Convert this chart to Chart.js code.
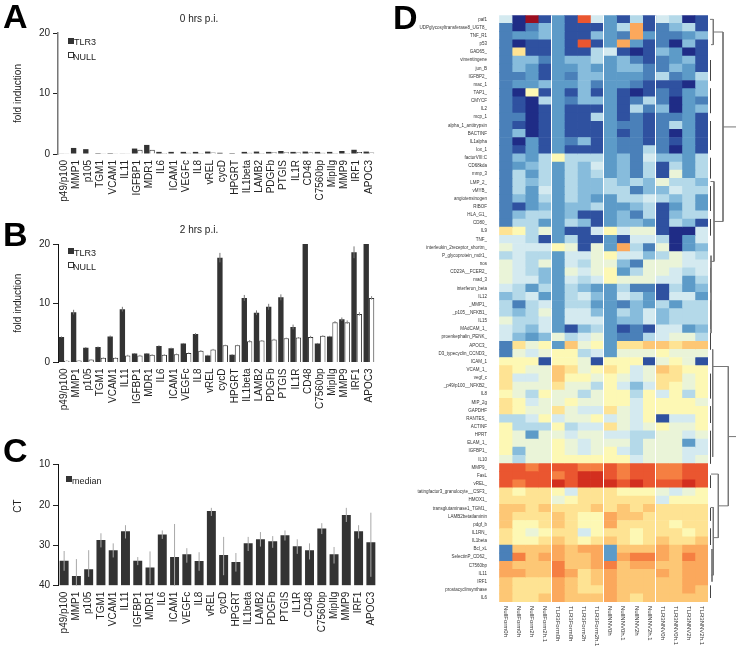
<!DOCTYPE html>
<html lang="en">
<head>
    <meta charset="UTF-8">
    <title>TLR3 fold induction, CT values and expression heatmap</title>
    <script src="https://cdn.jsdelivr.net/npm/chart.js"></script>
    <style>
        body { margin: 0; background: #fff; font-family: "Liberation Sans", Arial, sans-serif; }
        #page { position: relative; width: 739px; height: 650px; overflow: hidden; }
        canvas { position: absolute; }
        .letter { position: absolute; font-size: 34px; line-height: 34px; font-weight: bold; color: #000; }
        .key { position: absolute; font-size: 9px; line-height: 10px; color: #222; }
        .swatch { position: absolute; width: 4px; height: 4px; border: 0.5px solid #333; }
        .ct { position: absolute; left: 8px; top: 500px; width: 20px; height: 12px; font-size: 10px; line-height: 12px;
              text-align: center; color: #222; transform: rotate(-90deg); }
    </style>
</head>
<body>
<div id="page">
    <canvas id="chartA" width="398" height="212" style="left:0;top:0"></canvas>
    <canvas id="chartB" width="398" height="212" style="left:0;top:211px"></canvas>
    <canvas id="chartC" width="398" height="210" style="left:0;top:440px"></canvas>
    <canvas id="chartD" width="310" height="650" style="left:400px;top:0"></canvas>
    <canvas id="dendro" width="31" height="650" style="left:708px;top:0"></canvas>

    <div class="letter" style="left:3px;top:-1px">A</div>
    <div class="letter" style="left:3px;top:217px">B</div>
    <div class="letter" style="left:3px;top:433px">C</div>
    <div class="letter" style="left:393px;top:0">D</div>

    <div class="swatch" style="left:68px;top:38px;background:#333"></div>
    <div class="key" style="left:74px;top:37px">TLR3</div>
    <div class="swatch" style="left:68px;top:52px;background:#fff"></div>
    <div class="key" style="left:73px;top:52px">NULL</div>

    <div class="swatch" style="left:68px;top:248px;background:#333"></div>
    <div class="key" style="left:74px;top:248px">TLR3</div>
    <div class="swatch" style="left:68px;top:262px;background:#fff"></div>
    <div class="key" style="left:73px;top:262px">NULL</div>

    <div class="swatch" style="left:66px;top:476px;background:#333"></div>
    <div class="key" style="left:72px;top:476px">median</div>

    <div class="ct">CT</div>
</div>

<script>
    const genes = ['p49/p100', 'MMP1', 'p105', 'TGM1', 'VCAM1', 'IL11', 'IGFBP1', 'MDR1', 'IL6', 'ICAM1', 'VEGFc', 'IL8', 'vREL',
        'cycD', 'HPGRT', 'IL1beta', 'LAMB2', 'PDGFb', 'PTGIS', 'IL1R', 'CD48', 'C7560bp', 'MipIIg', 'MMP9', 'IRF1', 'APOC3'];

    // Panel A, 0 hrs
    const tlr3At0 = [0.1, 1.0, 0.8, 0.15, 0.15, 0.1, 0.9, 1.5, 0.35, 0.35, 0.35, 0.35, 0.4, 0.2, 0.15, 0.35, 0.4, 0.35, 0.5, 0.35, 0.4, 0.35, 0.35, 0.5, 0.7, 0.4];
    const nullAt0 = [0.05, 0.1, 0.1, 0.05, 0.05, 0.05, 0.7, 0.7, 0.15, 0.1, 0.2, 0.15, 0.25, 0.1, 0.1, 0.2, 0.15, 0.3, 0.3, 0.25, 0.25, 0.2, 0.15, 0.15, 0.35, 0.25];

    // Panel B, 2 hrs
    const tlr3At2 = [4.3, 8.5, 2.5, 2.6, 4.4, 9.0, 1.5, 1.5, 2.8, 2.4, 3.2, 4.8, 1.2, 17.7, 1.3, 10.9, 8.4, 9.4, 11.0, 6.0, 20, 3.2, 4.4, 7.3, 18.6, 20];
    const nullAt2 = [0.3, 0.35, 0.5, 0.8, 0.8, 1.2, 1.2, 1.3, 1.3, 1.4, 1.6, 2.0, 2.2, 2.9, 2.9, 3.6, 3.7, 3.9, 4.1, 4.2, 4.3, 4.5, 6.8, 6.8, 8.2, 10.9];
    const tlr3Err2 = [0.1, 0.4, 0.1, 0.1, 0.15, 0.4, 0.1, 0.1, 0.1, 0.1, 0.1, 0.15, 0.1, 0.8, 0.1, 0.5, 0.4, 0.5, 0.5, 0.4, 0, 0.1, 0.1, 0.3, 1.0, 0];
    const nullErr2 = [0.05, 0.05, 0.05, 0.05, 0.05, 0.1, 0.1, 0.1, 0.1, 0.1, 0.1, 0.1, 0.1, 0.1, 0.1, 0.2, 0.1, 0.1, 0.1, 0.1, 0.2, 0.1, 0.2, 0.3, 0.3, 0.3];

    // Panel C, median CT and its range
    const ctMedian = [33.8, 37.6, 35.9, 28.7, 31.2, 26.5, 33.8, 35.5, 27.3, 32.9, 32.2, 33.9, 21.5, 32.4, 34.1, 29.5, 28.5, 29, 27.5, 30.2, 31.2, 25.8, 32.2, 22.5, 26.5, 29.2];
    const ctLow = [31.4, 33.4, 31.2, 27, 29.5, 25, 32.9, 31.5, 26.3, 24.7, 30.7, 31.7, 20.7, 27.9, 31.9, 27.9, 26.7, 27.7, 26.3, 28.5, 29.5, 24.5, 30.4, 20.7, 25, 21.9];
    const ctHigh = [36.3, 40, 37.8, 30.5, 33, 28.3, 34.9, 39.6, 28.4, 40, 34.3, 36.3, 22.7, 37.4, 36.5, 31.4, 30.3, 30.6, 28.8, 32.1, 33.5, 27.2, 34.5, 24.2, 28.3, 37.8];

    // Panel D
    const heatRowLabels = ['paf1', 'UDPglycosyltransferase8_UGT8_', 'TNF_R1', 'p53', 'GAD65_', 'vimentingene', 'jun_B', 'IGFBP2_', 'mac_1', 'TAP1_',
        'CMYCF', 'IL2', 'mcp_1', 'alpha_1_antitrypsin', 'BACTINF', 'IL1alpha', 'lox_1', 'factorVIII:C', 'CD68kda', 'mmp_3',
        'LMP_2_', 'vMYB_', 'angiotensinogen', 'RIBOF', 'HLA_G1_', 'CD80_', 'IL9', 'TNF_', 'interleukin_2receptor_shortm_', 'P_glycoprotein_mdr1_',
        'nos', 'CD23A__FCER2_', 'mad_3', 'interferon_beta', 'IL12', '_MMP1_', '_p105__NFKB1_', 'IL15', 'MAdCAM_1_', 'proenkephalin_PENK_',
        'APOC3_', 'D3_typecyclin_CCND3_', 'ICAM_1', 'VCAM_1_', 'vegf_c', '_p49/p100__NFKB2_', 'IL8', 'MIP_2g', 'GAPDHF', 'RANTES_',
        'ACTINF', 'HPRT', 'ELAM_1_', 'IGFBP1_', 'IL10', 'MMP9_', 'FasL', 'vREL_', 'tatingfactor3_granulocyte__CSF3_', 'HMOX1_',
        'transglutaminase1_TGM1_', 'LAMB2betatlaminin', 'pdgf_b', 'IL1RN_', 'IL1beta', 'Bcl_xL', 'SelectinP_CD62_', 'C7560bp', 'IL11', 'IRF1',
        'prostacyclinsynthase', 'IL6'];
    const heatColLabels = ['NullForm0h', 'NullForm0h', 'NullForm2h', 'NullForm2h.1', 'TLR3Form0h', 'TLR3Form0h', 'TLR3Form2h', 'TLR3Form2h.1',
        'NullNNV0h', 'NullNNV0h.1', 'NullNNV2h', 'NullNNV2h.1', 'TLR3NNV0h', 'TLR3NNV0h.1', 'TLR3NNV2h', 'TLR3NNV2h.1'];
    const heatLevels = [
        [6, 0, 15, 1, 3, 1, 13, 6, 3, 1, 5, 1, 6, 5, 0, 1],
        [2, 0, 2, 4, 3, 1, 1, 1, 3, 5, 11, 1, 2, 4, 5, 1],
        [2, 3, 3, 4, 3, 1, 1, 4, 3, 2, 11, 3, 2, 2, 3, 4],
        [2, 0, 1, 1, 3, 1, 13, 1, 3, 11, 3, 1, 2, 0, 4, 1],
        [2, 9, 1, 1, 3, 1, 1, 5, 6, 1, 0, 1, 4, 3, 0, 1],
        [2, 4, 4, 2, 3, 4, 4, 5, 3, 4, 2, 1, 2, 3, 4, 1],
        [2, 4, 3, 1, 3, 3, 4, 3, 3, 4, 4, 2, 2, 4, 3, 1],
        [2, 2, 3, 1, 3, 2, 4, 4, 3, 3, 3, 2, 5, 2, 3, 5],
        [2, 3, 3, 4, 3, 3, 4, 2, 3, 3, 2, 1, 1, 1, 0, 4],
        [2, 0, 8, 1, 3, 1, 4, 1, 3, 1, 0, 1, 2, 1, 3, 4],
        [2, 1, 0, 5, 3, 2, 4, 4, 3, 1, 2, 5, 2, 0, 3, 2],
        [2, 1, 0, 1, 3, 1, 1, 1, 3, 1, 5, 2, 4, 0, 3, 4],
        [2, 2, 0, 1, 3, 1, 1, 5, 3, 1, 2, 1, 2, 2, 3, 1],
        [2, 1, 0, 1, 3, 1, 1, 1, 3, 2, 2, 1, 2, 5, 3, 1],
        [2, 4, 0, 1, 3, 1, 1, 1, 3, 1, 2, 1, 2, 0, 3, 1],
        [2, 0, 3, 1, 3, 2, 4, 1, 3, 2, 2, 1, 2, 1, 3, 1],
        [2, 1, 3, 1, 3, 1, 1, 1, 3, 2, 2, 5, 2, 0, 3, 1],
        [2, 4, 3, 5, 8, 5, 5, 5, 3, 4, 2, 6, 4, 4, 3, 5],
        [2, 3, 4, 5, 3, 5, 4, 6, 3, 4, 2, 5, 1, 5, 3, 5],
        [2, 5, 3, 5, 3, 5, 4, 5, 3, 4, 2, 5, 1, 7, 3, 5],
        [2, 5, 4, 5, 3, 5, 4, 4, 5, 4, 5, 4, 7, 5, 5, 4],
        [2, 5, 3, 6, 3, 5, 4, 4, 5, 5, 2, 4, 4, 6, 5, 5],
        [2, 4, 3, 5, 3, 5, 4, 3, 3, 5, 5, 6, 5, 4, 5, 3],
        [2, 1, 3, 4, 3, 4, 4, 5, 3, 3, 4, 5, 1, 3, 5, 3],
        [2, 4, 5, 5, 3, 4, 1, 1, 3, 4, 2, 5, 1, 4, 5, 5],
        [2, 5, 5, 3, 3, 5, 4, 1, 3, 4, 4, 3, 1, 5, 4, 1],
        [9, 8, 5, 7, 3, 1, 1, 6, 8, 6, 7, 7, 1, 0, 0, 6],
        [6, 6, 5, 1, 3, 5, 1, 1, 3, 1, 6, 6, 5, 0, 3, 6],
        [7, 6, 6, 6, 8, 7, 1, 7, 3, 11, 5, 2, 7, 0, 3, 4],
        [5, 6, 5, 5, 3, 6, 6, 7, 8, 6, 6, 4, 5, 7, 6, 5],
        [7, 6, 5, 7, 3, 6, 5, 7, 7, 4, 2, 7, 7, 7, 6, 6],
        [7, 6, 5, 4, 3, 7, 6, 7, 8, 3, 5, 7, 7, 6, 5, 6],
        [7, 6, 6, 4, 3, 6, 5, 6, 8, 7, 7, 7, 6, 6, 3, 5],
        [6, 5, 3, 5, 3, 5, 4, 3, 3, 5, 2, 2, 1, 5, 3, 4],
        [4, 5, 6, 3, 3, 5, 6, 4, 3, 6, 5, 3, 1, 6, 6, 3],
        [5, 2, 5, 6, 3, 5, 5, 3, 3, 2, 4, 3, 5, 3, 5, 5],
        [5, 4, 5, 7, 3, 6, 6, 4, 3, 5, 4, 6, 4, 5, 5, 5],
        [7, 5, 5, 6, 3, 6, 6, 6, 3, 4, 4, 6, 4, 5, 5, 5],
        [6, 5, 4, 6, 3, 1, 4, 5, 3, 1, 2, 1, 6, 6, 3, 4],
        [6, 4, 3, 4, 7, 5, 6, 7, 3, 2, 2, 5, 6, 7, 7, 5],
        [2, 9, 7, 8, 3, 10, 7, 8, 3, 9, 9, 10, 10, 9, 10, 10],
        [2, 7, 6, 7, 8, 8, 5, 6, 3, 7, 7, 7, 8, 7, 7, 7],
        [8, 8, 8, 1, 8, 8, 7, 1, 8, 8, 8, 1, 7, 8, 7, 1],
        [9, 8, 7, 7, 10, 9, 7, 8, 9, 8, 6, 7, 10, 9, 8, 8],
        [9, 6, 6, 7, 10, 8, 8, 7, 8, 7, 6, 7, 9, 9, 7, 8],
        [9, 7, 7, 7, 9, 7, 7, 5, 8, 6, 4, 6, 9, 8, 7, 8],
        [8, 7, 5, 8, 7, 7, 5, 7, 8, 8, 5, 8, 6, 8, 5, 8],
        [9, 8, 6, 7, 7, 8, 7, 7, 8, 8, 6, 8, 8, 8, 8, 7],
        [9, 8, 7, 7, 9, 7, 6, 6, 9, 7, 6, 8, 8, 8, 8, 8],
        [5, 5, 6, 8, 6, 7, 7, 8, 6, 7, 6, 8, 1, 6, 6, 8],
        [8, 5, 5, 5, 8, 5, 6, 6, 9, 7, 6, 7, 8, 7, 7, 8],
        [8, 7, 3, 7, 7, 6, 7, 7, 6, 6, 5, 5, 7, 7, 6, 7],
        [8, 7, 7, 7, 8, 7, 6, 7, 7, 7, 5, 7, 7, 7, 3, 6],
        [8, 4, 7, 7, 8, 7, 6, 7, 8, 6, 5, 7, 7, 7, 6, 6],
        [7, 5, 7, 7, 8, 8, 8, 8, 8, 8, 6, 7, 7, 7, 6, 7],
        [13, 13, 12, 13, 13, 13, 12, 12, 13, 12, 13, 13, 12, 12, 13, 13],
        [13, 13, 13, 13, 12, 13, 14, 14, 13, 12, 13, 13, 12, 12, 13, 13],
        [13, 12, 13, 13, 14, 13, 14, 14, 14, 13, 14, 13, 13, 13, 14, 13],
        [9, 8, 9, 9, 8, 6, 9, 9, 9, 8, 8, 8, 7, 6, 7, 8],
        [9, 9, 9, 9, 7, 8, 9, 9, 9, 9, 9, 9, 6, 8, 8, 8],
        [10, 10, 9, 10, 9, 9, 9, 10, 9, 10, 9, 10, 9, 9, 9, 9],
        [10, 9, 9, 9, 10, 9, 8, 8, 11, 10, 10, 9, 9, 9, 9, 9],
        [10, 8, 8, 9, 10, 9, 8, 8, 11, 9, 9, 9, 9, 8, 9, 9],
        [9, 8, 7, 8, 9, 9, 6, 8, 9, 9, 8, 9, 9, 9, 8, 9],
        [9, 8, 8, 9, 10, 9, 8, 9, 10, 9, 8, 9, 10, 9, 9, 10],
        [2, 10, 10, 10, 11, 10, 11, 11, 3, 10, 10, 10, 11, 10, 11, 11],
        [2, 12, 10, 11, 11, 10, 10, 11, 3, 11, 12, 12, 11, 10, 12, 11],
        [11, 10, 10, 10, 12, 10, 10, 11, 12, 10, 11, 11, 10, 10, 11, 11],
        [11, 11, 10, 10, 12, 11, 9, 10, 11, 10, 10, 10, 11, 10, 11, 11],
        [10, 9, 9, 9, 11, 10, 9, 10, 11, 10, 10, 10, 10, 10, 11, 11],
        [10, 9, 9, 9, 11, 10, 9, 9, 11, 10, 10, 10, 10, 10, 11, 10],
        [10, 9, 9, 10, 11, 10, 10, 10, 11, 10, 9, 10, 10, 10, 10, 10]
    ];
    const heatPalette = ['#1f2c86', '#2f51a0', '#4a80b9', '#5d9bc8', '#87bcdc', '#b4d9e9', '#d4eaf0', '#eaf4d8',
        '#fdf8b4', '#fee393', '#fdc775', '#fba85c', '#f57f42', '#ea5630', '#d32f1f', '#9b0f20'];

    // Dendrogram branches as [height, row] paths, row 0 is the top of the heatmap
    const dendroUpper = [
        [[15, 13.7], [28, 13.7]],
        [[5.3, 2.05], [15, 2.05], [15, 25.3], [6, 25.3]],
        [[2, 0.5], [5.3, 0.5], [5.3, 3.6], [3, 3.6]],
        [[6, 20.4], [6, 30.2]],
        [[2.5, 20.4], [6, 20.4]],
        [[2.5, 30.2], [6, 30.2]]
    ];
    const dendroLower = [
        [[20.3, 51.7], [28, 51.7]],
        [[4.7, 43.1], [20.3, 43.1], [20.3, 60.2], [10.3, 60.2]],
        [[3, 56.3], [10.3, 56.3], [10.3, 64.1], [5.3, 64.1]],
        [[2.5, 60.4], [5.3, 60.4], [5.3, 68.7], [3, 68.7]],
        [[4.7, 41], [4.7, 54.2]],
        [[3, 29.5], [3, 39]],
        [[4, 65.5], [4, 69.5]]
    ];
    const dendroLeaves = [
        [[2.5, 5.5], [2.5, 8]], [[2.5, 9], [2.5, 12]], [[2.5, 13], [2.5, 16.5]],
        [[2.5, 17.5], [2.5, 20]], [[2.5, 21], [2.5, 24]], [[2.5, 25], [2.5, 27]],
        [[2.5, 31], [2.5, 34]], [[2.5, 35], [2.5, 38.5]], [[2.5, 39], [2.5, 41]],
        [[2.5, 44], [2.5, 47]], [[2.5, 48], [2.5, 50]], [[2.5, 51], [2.5, 55]],
        [[2.5, 56.5], [2.5, 58]], [[2.5, 60.5], [2.5, 62]], [[2.5, 63], [2.5, 65]], [[2.5, 70], [2.5, 71.5]]
    ];

    const dark = '#333';
    const font = '"Liberation Sans", Arial, sans-serif';

    // Error bars for any dataset that carries a "ranges" list of [low, high]
    const errorBarPlugin = {
        id: 'errorBars',
        afterDatasetsDraw(chart) {
            const ctx = chart.ctx;
            const yScale = chart.scales.y;
            ctx.save();
            ctx.beginPath();
            ctx.rect(chart.chartArea.left, chart.chartArea.top, chart.chartArea.width, chart.chartArea.height);
            ctx.clip();
            chart.data.datasets.forEach((dataset, i) => {
                if (!dataset.ranges) return;
                chart.getDatasetMeta(i).data.forEach((bar, j) => {
                    ctx.strokeStyle = dataset.rangeColor;
                    ctx.lineWidth = 1;
                    ctx.beginPath();
                    ctx.moveTo(bar.x, yScale.getPixelForValue(dataset.ranges[j][0]));
                    ctx.lineTo(bar.x, yScale.getPixelForValue(dataset.ranges[j][1]));
                    ctx.stroke();
                });
            });
            ctx.restore();
        }
    };

    function barOptions(opts) {
        const paddingLeft = opts.paddingLeft || 0;
        return {
            responsive: false,
            animation: false,
            layout: { padding: { top: opts.paddingTop, right: opts.paddingRight, left: paddingLeft, bottom: 0 } },
            plugins: {
                legend: { display: false },
                tooltip: { enabled: false },
                title: {
                    display: !!opts.title,
                    text: opts.title,
                    color: '#222',
                    font: { family: font, size: 10, weight: 'normal' },
                    padding: { top: 13, bottom: 8 }
                }
            },
            scales: {
                x: {
                    grid: { display: false, drawTicks: false },
                    border: { display: false },
                    ticks: {
                        autoSkip: false, minRotation: 90, maxRotation: 90, padding: 6,
                        color: '#222', font: { family: font, size: 10 }
                    },
                    afterFit(scale) { scale.height = opts.axisHeight; }
                },
                y: {
                    min: opts.min,
                    max: opts.max,
                    reverse: !!opts.reverse,
                    border: { color: opts.axisColor, width: opts.axisWidth },
                    grid: { drawOnChartArea: false, color: '#222', tickLength: 5 },
                    ticks: { stepSize: 10, padding: 3, color: '#222', font: { family: font, size: 10 } },
                    title: {
                        display: !!opts.yTitle,
                        text: opts.yTitle,
                        color: '#222',
                        font: { family: font, size: 10 },
                        padding: { top: 12 - paddingLeft, bottom: 0 }
                    },
                    afterFit(scale) { scale.width = 58 - paddingLeft; }
                }
            }
        };
    }

    function inductionChart(id, tlr3, nullCells, tlr3Err, nullErr, opts) {
        const tlr3Set = { label: 'TLR3', data: tlr3, backgroundColor: dark, barPercentage: 1, categoryPercentage: 0.88 };
        const nullSet = {
            label: 'NULL', data: nullCells, backgroundColor: '#fff', borderColor: dark, borderWidth: 1,
            barPercentage: 1, categoryPercentage: 0.88
        };
        if (tlr3Err) {
            tlr3Set.ranges = tlr3.map((v, i) => [v - tlr3Err[i], v + tlr3Err[i]]);
            tlr3Set.rangeColor = '#777';
            nullSet.ranges = nullCells.map((v, i) => [v - nullErr[i], v + nullErr[i]]);
            nullSet.rangeColor = '#888';
        }
        new Chart(document.getElementById(id), {
            type: 'bar',
            data: { labels: genes, datasets: [tlr3Set, nullSet] },
            options: barOptions(opts),
            plugins: [errorBarPlugin]
        });
    }

    inductionChart('chartA', tlr3At0, nullAt0, null, null, {
        title: '0 hrs p.i.', yTitle: 'fold induction', min: 0, max: 20, paddingTop: 0, paddingLeft: 23, paddingRight: 23,
        axisHeight: 58, axisColor: '#777', axisWidth: 1.5
    });

    inductionChart('chartB', tlr3At2, nullAt2, tlr3Err2, nullErr2, {
        title: '2 hrs p.i.', yTitle: 'fold induction', min: 0, max: 20, paddingTop: 0, paddingLeft: 23, paddingRight: 23,
        axisHeight: 60.5, axisColor: '#111', axisWidth: 1
    });

    new Chart(document.getElementById('chartC'), {
        type: 'bar',
        data: {
            labels: genes,
            datasets: [{
                label: 'median',
                data: ctMedian,
                base: 40,
                backgroundColor: dark,
                barPercentage: 0.73,
                categoryPercentage: 1,
                ranges: ctLow.map((v, i) => [v, ctHigh[i]]),
                rangeColor: '#a8a8a8'
            }]
        },
        options: barOptions({
            min: 10, max: 40, reverse: true, paddingTop: 24.7, paddingRight: 21,
            axisHeight: 64.3, axisColor: '#111', axisWidth: 1
        }),
        plugins: [errorBarPlugin]
    });

    // Column names read downwards below the heatmap, which the tick options cannot do
    const columnLabelPlugin = {
        id: 'columnLabels',
        afterDraw(chart) {
            const ctx = chart.ctx;
            const xScale = chart.scales.x;
            heatColLabels.forEach((label, c) => {
                ctx.save();
                ctx.translate(xScale.getPixelForValue(c + 0.5), chart.chartArea.bottom + 4);
                ctx.rotate(Math.PI / 2);
                ctx.font = '6px ' + font;
                ctx.fillStyle = '#333';
                ctx.textAlign = 'left';
                ctx.textBaseline = 'middle';
                ctx.fillText(label, 0, 0);
                ctx.restore();
            });
        }
    };

    new Chart(document.getElementById('chartD'), {
        type: 'bar',
        data: {
            labels: heatRowLabels,
            datasets: heatColLabels.map((label, c) => ({
                label: label,
                data: heatLevels.map(() => [c, c + 1]),
                backgroundColor: heatLevels.map(row => heatPalette[row[c]]),
                grouped: false,
                barPercentage: 1,
                categoryPercentage: 1
            }))
        },
        options: {
            indexAxis: 'y',
            responsive: false,
            animation: false,
            layout: { padding: { top: 15.3, right: 2, left: 0, bottom: 0 } },
            plugins: { legend: { display: false }, tooltip: { enabled: false } },
            scales: {
                x: {
                    min: 0,
                    max: 16,
                    border: { display: false },
                    ticks: { display: false, stepSize: 1 },
                    grid: {
                        z: 1,
                        drawTicks: false,
                        lineWidth: 1,
                        color: ctx => (ctx.tick && [4, 8, 12].includes(ctx.tick.value)) ? '#fff' : 'rgba(0,0,0,0)'
                    },
                    afterFit(scale) { scale.height = 48; }
                },
                y: {
                    border: { display: false },
                    grid: { display: false },
                    ticks: { autoSkip: false, padding: 4, color: '#333', font: { family: font, size: 4.5 } },
                    afterFit(scale) { scale.width = 99; }
                }
            }
        },
        plugins: [columnLabelPlugin]
    });

    function branchSets(branches, color, width) {
        return branches.map(path => ({
            data: path.map(p => ({ x: p[0], y: p[1] })),
            showLine: true,
            pointRadius: 0,
            borderColor: color,
            borderWidth: width
        }));
    }

    new Chart(document.getElementById('dendro'), {
        type: 'scatter',
        data: {
            datasets: [
                ...branchSets(dendroUpper, '#777', 1),
                ...branchSets(dendroLower, '#777', 1),
                ...branchSets(dendroLeaves, '#444', 1)
            ]
        },
        options: {
            responsive: false,
            animation: false,
            layout: { padding: { top: 15.3, bottom: 48, left: 0, right: 0 } },
            plugins: { legend: { display: false }, tooltip: { enabled: false } },
            scales: {
                x: { display: false, min: 0, max: 31 },
                y: { display: false, min: 0, max: 72, reverse: true }
            }
        }
    });
</script>
</body>
</html>
